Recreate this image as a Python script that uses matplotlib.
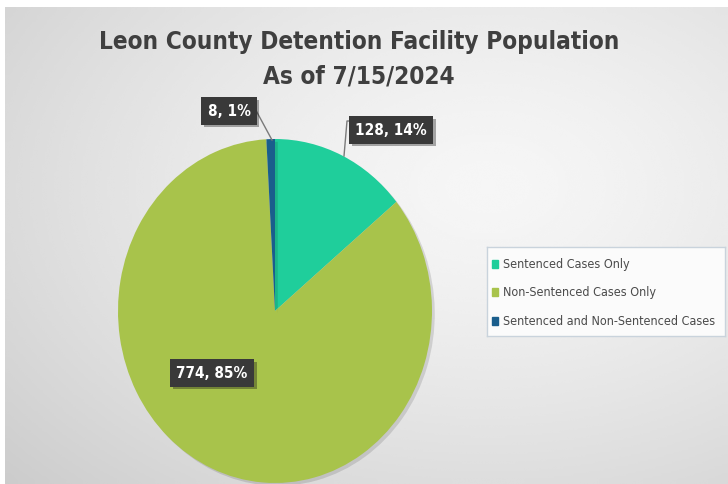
import numpy as np
import matplotlib
matplotlib.use("Agg")
import matplotlib.pyplot as plt
import matplotlib.patheffects as pe
from matplotlib.patches import Rectangle

# ---- data ----
categories = ["Sentenced Cases Only", "Non-Sentenced Cases Only",
              "Sentenced and Non-Sentenced Cases"]
counts = [128, 774, 8]
percents = [14, 85, 1]
colors = ["#1FCE9B", "#A8C34B", "#1A5E8C"]
title = "Leon County Detention Facility Population\nAs of 7/15/2024"

W, H = 728, 485
fig = plt.figure(figsize=(W / 100, H / 100), dpi=100)
fig.patch.set_facecolor("white")

# ---- background gradient panel ----
bg = fig.add_axes([5 / W, 0, 1 - 5 / W, 1 - 8 / H])
bg.set_axis_off()
yy, xx = np.mgrid[0:200, 0:300]
cx, cy = 200, 75
r = np.sqrt(((xx - cx) / 300) ** 2 + ((yy - cy) / 200) ** 2)
val = np.clip(0.965 - 0.19 * r ** 1.4, 0, 1)
bg.imshow(val, cmap="gray", vmin=0, vmax=1, aspect="auto",
          extent=[0, 1, 0, 1], interpolation="bicubic")
bg.set_xlim(0, 1)
bg.set_ylim(0, 1)

font = ["DejaVu Sans"]
stretch = "condensed"

fig.text(359 / W, 1 - 59 / H, title, ha="center", va="center",
         fontsize=17.5, fontweight="bold", color="#3f3f3f", family=font,
         fontstretch=stretch, linespacing=1.55)

# ---- pie (elliptical, as in reference) ----
left, right, top, bottom = 118, 432, 140, 484
ax = fig.add_axes([left / W, (H - bottom) / H, (right - left) / W,
                   (bottom - top) / H])
wedges, _ = ax.pie(counts, colors=colors, startangle=90, counterclock=False,
                   radius=1, wedgeprops=dict(linewidth=0))
for w in wedges:
    w.set_path_effects([pe.SimplePatchShadow(offset=(2, -2), alpha=0.12,
                                             shadow_rgbFace="black"),
                        pe.Normal()])
ax.set_aspect("auto")
ax.set_xlim(-1, 1)
ax.set_ylim(-1, 1)
ax.set_axis_off()


def px(x, y):
    """pixel position in reference -> axes data coords"""
    return ((x - (left + right) / 2) / ((right - left) / 2),
            ((top + bottom) / 2 - y) / ((bottom - top) / 2))


labels = [f"{c}, {p}%" for c, p in zip(counts, percents)]
label_pos = [px(391, 131), px(212, 374), px(229, 112)]
for lab, pos in zip(labels, label_pos):
    t = ax.text(pos[0], pos[1], lab, ha="center", va="center",
                fontsize=11, fontweight="bold", color="white", family=font,
                fontstretch=stretch, clip_on=False, zorder=5,
                bbox=dict(boxstyle="square,pad=0.4", fc="#393939",
                          ec="none"))
    t.get_bbox_patch().set_path_effects(
        [pe.SimplePatchShadow(offset=(2, -2), alpha=0.35), pe.Normal()])

# leader lines
lx, ly = zip(px(352, 122), px(347, 122), px(344, 157))
ax.plot(lx, ly, color="#7a7a7a", lw=1, clip_on=False, zorder=4)
lx, ly = zip(px(252, 104), px(272, 141))
ax.plot(lx, ly, color="#7a7a7a", lw=1, clip_on=False, zorder=4)

# ---- legend ----
lg = fig.add_axes([487 / W, (H - 337) / H, (725 - 487) / W, (337 - 248) / H])
lg.set_xlim(0, 1)
lg.set_ylim(0, 1)
lg.set_xticks([])
lg.set_yticks([])
lg.set_facecolor("#fbfbfb")
for s in lg.spines.values():
    s.set_color("#c9d3dc")
    s.set_linewidth(1)
ys = [1 - (265 - 248) / 89, 1 - (293 - 248) / 89, 1 - (322 - 248) / 89]
for cat, col, yv in zip(categories, colors, ys):
    lg.add_patch(Rectangle((0.022, yv - 0.04), 0.025, 0.08, color=col))
    lg.text(0.068, yv, cat, va="center", ha="left", fontsize=9,
            color="#4a4a4a", family=font, fontstretch=stretch)

fig.savefig("out.png", dpi=100)
